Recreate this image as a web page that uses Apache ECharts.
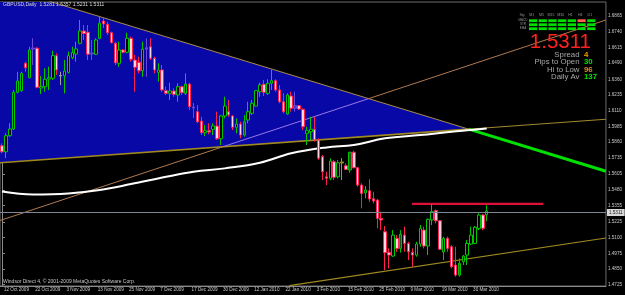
<!DOCTYPE html>
<html>
<head>
<meta charset="utf-8">
<script src="https://cdn.jsdelivr.net/npm/echarts@6/dist/echarts.min.js"></script>
<style>
html, body { margin: 0; padding: 0; background: #000; }
#chart { width: 625px; height: 295px; }
</style>
</head>
<body>
<div id="chart"></div>
<script>
// GBPUSD daily bars, 12 Oct 2009 onwards (one entry per bar)
var opens = [
	1.5831,1.5783,1.5911,1.5964,1.6256,1.6269,1.6487,1.6372,1.6601,1.6607,
	1.6291,1.6301,1.6362,1.6368,1.6548,1.6390,1.6388,1.6415,1.6532,1.6561,
	1.6646,1.6744,1.6734,1.6561,1.6559,1.6686,1.6824,1.6798,1.6731,1.6646,
	1.6487,1.6593,1.6575,1.6686,1.6513,1.6495,1.6428,1.6599,1.6619,1.6527,
	1.6415,1.6434,1.6269,1.6248,1.6267,1.6235,1.6301,1.6248,1.6322,1.6139,
	1.6102,1.6028,1.5935,1.5951,1.5962,1.5988,1.5887,1.6068,1.6102,1.6068,
	1.5978,1.6004,1.5916,1.6036,1.6089,1.6147,1.6261,1.6320,1.6248,1.6328,
	1.6349,1.6275,1.6181,1.6084,1.6227,1.6129,1.6150,1.6121,1.5930,1.5943,
	1.5962,1.5877,1.5744,1.5584,1.5572,1.5704,1.5584,1.5694,1.5672,1.5638,
	1.5779,1.5656,1.5518,1.5457,1.5473,1.5409,1.5399,1.5253,1.5147,1.4983,
	1.4953,1.5094,1.5014,1.5120,1.5054,1.4983,1.4961,1.5049,1.5160,1.5033,
	1.5240,1.5314,1.5234,1.4987,1.5094,1.5027,1.4882,1.4802,1.4908,1.4961,
	1.5049,1.5054,1.5174,1.5280,1.5281
];
var closes = [
	1.5783,1.5911,1.5964,1.6256,1.6346,1.6407,1.6452,1.6593,1.6609,1.6296,
	1.6302,1.6360,1.6372,1.6548,1.6434,1.6386,1.6426,1.6548,1.6572,1.6601,
	1.6744,1.6724,1.6559,1.6569,1.6673,1.6806,1.6800,1.6731,1.6651,1.6492,
	1.6593,1.6575,1.6686,1.6519,1.6455,1.6428,1.6599,1.6611,1.6527,1.6434,
	1.6434,1.6275,1.6248,1.6267,1.6240,1.6301,1.6253,1.6322,1.6142,1.6131,
	1.6022,1.5935,1.5951,1.5940,1.5988,1.5887,1.6068,1.6147,1.6076,1.5978,
	1.6004,1.5916,1.6022,1.6102,1.6169,1.6269,1.6314,1.6256,1.6328,1.6349,
	1.6275,1.6181,1.6102,1.6235,1.6129,1.6150,1.6123,1.5982,1.5951,1.5962,
	1.5877,1.5731,1.5624,1.5572,1.5709,1.5580,1.5696,1.5702,1.5643,1.5779,
	1.5656,1.5518,1.5452,1.5479,1.5407,1.5391,1.5253,1.5240,1.4980,1.4961,
	1.5120,1.5014,1.5128,1.5054,1.4987,1.4961,1.5049,1.5174,1.5033,1.5245,
	1.5306,1.5234,1.5007,1.5094,1.5014,1.4868,1.4802,1.4895,1.4953,1.5054,
	1.5120,1.5182,1.5280,1.5174,1.5311
];
var lows = [
	1.5771,1.5733,1.5903,1.5956,1.6248,1.6261,1.6420,1.6368,1.6474,1.6288,
	1.6243,1.6261,1.6275,1.6354,1.6394,1.6314,1.6248,1.6407,1.6521,1.6500,
	1.6638,1.6673,1.6513,1.6513,1.6553,1.6678,1.6768,1.6712,1.6646,1.6474,
	1.6460,1.6567,1.6567,1.6500,1.6261,1.6407,1.6380,1.6380,1.6513,1.6407,
	1.6341,1.6261,1.6235,1.6195,1.6221,1.6181,1.6235,1.6235,1.6115,1.6052,
	1.6010,1.5916,1.5908,1.5922,1.5916,1.5877,1.5837,1.6049,1.6062,1.5956,
	1.5930,1.5890,1.5903,1.6010,1.6076,1.6142,1.6221,1.6227,1.6235,1.6275,
	1.6261,1.6169,1.6089,1.6076,1.6102,1.6102,1.6115,1.5956,1.5837,1.5877,
	1.5863,1.5717,1.5558,1.5518,1.5558,1.5558,1.5572,1.5558,1.5638,1.5616,
	1.5651,1.5505,1.5333,1.5413,1.5385,1.5373,1.5174,1.5160,1.4842,1.4855,
	1.4948,1.4987,1.4980,1.4987,1.4921,1.4868,1.4948,1.5027,1.5014,1.4961,
	1.5200,1.5214,1.5001,1.4921,1.4987,1.4855,1.4789,1.4789,1.4882,1.4882,
	1.5041,1.5049,1.5160,1.5160,1.5231
];
var highs = [
	1.5850,1.5930,1.6010,1.6275,1.6420,1.6420,1.6500,1.6619,1.6686,1.6615,
	1.6386,1.6447,1.6460,1.6587,1.6567,1.6420,1.6513,1.6580,1.6619,1.6659,
	1.6832,1.6792,1.6792,1.6673,1.6686,1.6864,1.6856,1.6818,1.6739,1.6659,
	1.6659,1.6601,1.6731,1.6699,1.6553,1.6540,1.6659,1.6686,1.6686,1.6540,
	1.6487,1.6474,1.6301,1.6333,1.6288,1.6328,1.6309,1.6407,1.6333,1.6171,
	1.6155,1.6062,1.5996,1.6010,1.6010,1.6102,1.6076,1.6221,1.6195,1.6076,
	1.6049,1.6022,1.6076,1.6181,1.6195,1.6275,1.6333,1.6354,1.6360,1.6439,
	1.6360,1.6314,1.6248,1.6248,1.6261,1.6261,1.6155,1.6129,1.5982,1.6062,
	1.6062,1.5890,1.5757,1.5624,1.5731,1.5717,1.5717,1.5733,1.5691,1.5783,
	1.5791,1.5664,1.5532,1.5510,1.5564,1.5465,1.5407,1.5306,1.5192,1.5014,
	1.5160,1.5120,1.5160,1.5187,1.5067,1.5014,1.5067,1.5200,1.5187,1.5253,
	1.5368,1.5325,1.5240,1.5107,1.5107,1.5041,1.5027,1.4935,1.4961,1.5081,
	1.5187,1.5192,1.5293,1.5288,1.5357
];
// bars that show up in other colours on the screen
var oddBars = { 8: 'ghost', 15: 'doji', 23: 'ghost', 37: 'ghost', 49: 'ghost', 62: 'dark', 75: 'ghost', 87: 'olive', 89: 'dark', 102: 'dark', 117: 'dark' };

var dateLabels = ['12 Oct 2009','22 Oct 2009','3 Nov 2009','13 Nov 2009','25 Nov 2009','7 Dec 2009','17 Dec 2009','30 Dec 2009',
	'12 Jan 2010','22 Jan 2010','3 Feb 2010','15 Feb 2010','25 Feb 2010','9 Mar 2010','19 Mar 2010','30 Mar 2010'];
var labelStep = 8;
var slotCount = 155;
var priceLabels = ['1.4725','1.4850','1.4975','1.5100','1.5225','1.5355','1.5480','1.5605','1.5735','1.5860',
	'1.5985','1.6110','1.6235','1.6360','1.6490','1.6615','1.6740','1.6865'];

// white moving average, [bar, price]
var maLine = [[0,1.5467],[8,1.5444],[17,1.5452],[25,1.5479],[33,1.5526],[42,1.5584],[49,1.5624],[57,1.5651],
	[66,1.5696],[74,1.5771],[83,1.5818],[90,1.5837],[98,1.5890],[107,1.5916],[115,1.5943],[120,1.5956],[124,1.5968]];

// hand drawn objects, [bar, price]
var triangleCorners = [[-0.5,1.7101],[119.4,1.5963],[-0.5,1.5696]];
var greenRay = [[119.4,1.5963],[154.5,1.5628]];
var baseRay = [[119.4,1.5963],[154.5,1.6042]];
var riseLineOut1 = [[-0.5,1.5236],[56.5,1.5823]];
var riseLineIn = [[56.5,1.5823],[93.7,1.6205]];
var riseLineOut2 = [[93.7,1.6205],[154.5,1.6832]];
var channelLine = [[73.5,1.4718],[154.5,1.5097]];
var resistLine = [[104.9,1.5368],[138.5,1.5368]];
var lastPrice = 1.5311;

// info panel
var panelCols = ['Sig','M1','M5','M15','M30','H1','H4','D1'];
var panelRows = ['MACD','STR','EMA'];
var panelSignals = [[1,1,1,1,1,0,1],[1,1,1,1,1,1,1],[1,1,1,1,1,1,1]];
var infoNames = ['Spread','Pips to Open','Hi to Low','Daily Av'];
var infoValues = ['4','30','96','137'];
var infoColors = ['#ff9a00','#00e000','#e08828','#00e000'];

var oddStyles = {
	ghost: { color: '#4a30b8', color0: '#4a30b8', borderColor: '#6a48d8', borderColor0: '#6a48d8' },
	doji: { color: '#a0a0a0', color0: '#a0a0a0', borderColor: '#a0a0a0', borderColor0: '#a0a0a0' },
	olive: { color: '#6a6a10', color0: '#6a6a10', borderColor: '#9a9a20', borderColor0: '#9a9a20' },
	dark: { color: '#0c5a10', color0: '#0c5a10', borderColor: '#00c000', borderColor0: '#00c000' }
};

var cats = [];
for (var i = 0; i < slotCount; i++) cats.push('b' + i);

var bars = [];
for (var i = 0; i < opens.length; i++) {
	var item = { value: [opens[i], closes[i], lows[i], highs[i]] };
	if (oddBars[i]) item.itemStyle = oddStyles[oddBars[i]];
	bars.push(item);
}

function showDate(idx) {
	return idx % labelStep === 0 && idx / labelStep < dateLabels.length;
}

function segment(points, color, width, z) {
	return {
		type: 'line', xAxisIndex: 1, yAxisIndex: 0, data: points, symbol: 'none', silent: true, z: z,
		lineStyle: { color: color, width: width }
	};
}

var graphics = [];
graphics.push({ type: 'text', z: 100, x: 3, y: 2.5, style: { text: 'GBPUSD,Daily  1.5281 1.5357 1.5231 1.5311', fill: '#d8d8d8', font: '5px "Liberation Sans"' } });
graphics.push({ type: 'text', z: 100, x: 3, y: 279.5, style: { text: 'Windsor Direct 4, \u00a9 2001-2009 MetaQuotes Software Corp.', fill: '#c8c8c8', font: '5px "Liberation Sans"' } });

for (var c = 0; c < panelCols.length; c++) {
	graphics.push({ type: 'text', z: 100, x: 522 + c * 9.7, y: 13, style: { text: panelCols[c], fill: '#909090', font: '3.6px "Liberation Sans"', textAlign: 'center' } });
}
for (var r = 0; r < panelRows.length; r++) {
	graphics.push({ type: 'text', z: 100, x: 523, y: 18.6 + r * 4, style: { text: panelRows[r], fill: '#909090', font: '3px "Liberation Sans"', textAlign: 'center' } });
	for (var c = 0; c < panelSignals[r].length; c++) {
		graphics.push({ type: 'rect', z: 100, shape: { x: 529 + c * 9.7, y: 19.3 + r * 4, width: 8.2, height: 2.8 },
			style: { fill: panelSignals[r][c] ? '#00e000' : '#ff6050' } });
	}
}
graphics.push({ type: 'text', z: 100, x: 591, y: 32, style: { text: lastPrice.toFixed(4), fill: '#ff2020', font: '20.5px "Liberation Sans"', textAlign: 'right' } });
for (var k = 0; k < infoNames.length; k++) {
	graphics.push({ type: 'text', z: 100, x: 579.5, y: 50.5 + k * 7.6, style: { text: infoNames[k], fill: '#a8a8a8', font: '7.8px "Liberation Sans"', textAlign: 'right' } });
	graphics.push({ type: 'text', z: 100, x: 584, y: 50.5 + k * 7.6, style: { text: infoValues[k], fill: infoColors[k], font: 'bold 7.8px "Liberation Sans"' } });
}

var chart = echarts.init(document.getElementById('chart'));
chart.setOption({
	backgroundColor: '#000000',
	animation: false,
	grid: { left: 0, top: 2, width: 607.6, height: 284, show: true, borderColor: '#6c6c6c', borderWidth: 1 },
	xAxis: [{
		type: 'category', data: cats, boundaryGap: true,
		axisLine: { lineStyle: { color: '#8a8a8a' } },
		axisTick: { alignWithLabel: true, interval: showDate, length: 3, lineStyle: { color: '#8a8a8a' } },
		axisLabel: {
			interval: showDate, align: 'left', margin: 1.5, padding: [0, 0, 0, 2],
			color: '#c8c8c8', fontSize: 4.6, fontFamily: 'Liberation Sans',
			formatter: function (v, idx) { return dateLabels[idx / labelStep] || ''; }
		},
		splitLine: { show: false }
	}, {
		type: 'value', min: -0.5, max: slotCount - 0.5, show: false
	}],
	yAxis: {
		type: 'value', position: 'right', min: 1.4715, max: 1.6975, scale: true,
		axisLine: { show: true, lineStyle: { color: '#8a8a8a' } },
		axisTick: { show: true, length: 3, customValues: priceLabels.map(Number), lineStyle: { color: '#8a8a8a' } },
		axisLabel: {
			customValues: priceLabels.map(Number), margin: 2, color: '#c8c8c8', fontSize: 4.6, fontFamily: 'Liberation Sans',
			formatter: function (v) { return v.toFixed(4); }
		},
		splitLine: { show: false }
	},
	series: [
		{
			type: 'custom', xAxisIndex: 1, yAxisIndex: 0, clip: true, silent: true, z: 1,
			data: [[0, 1.6]],
			renderItem: function (params, api) {
				var cs = params.coordSys;
				return {
					type: 'polygon',
					shape: { points: triangleCorners.map(function (p) { return api.coord(p); }) },
					clipPath: { type: 'rect', shape: { x: cs.x, y: cs.y, width: cs.width, height: cs.height } },
					style: { fill: '#0808a6' }
				};
			}
		},
		segment([triangleCorners[0], triangleCorners[1]], '#a88a50', 1, 2),
		segment([triangleCorners[2], triangleCorners[1]], '#a08a20', 1.6, 2),
		segment(baseRay, '#a08a30', 1, 2),
		segment(riseLineOut1, '#b07a50', 1, 2),
		segment(riseLineIn, '#9a78e8', 1, 2),
		segment(riseLineOut2, '#b07a50', 1, 2),
		segment(channelLine, '#a08a20', 1.2, 2),
		segment(greenRay, '#00e000', 3, 2),
		segment(resistLine, '#dc1038', 2.2, 2),
		{
			type: 'line', xAxisIndex: 1, yAxisIndex: 0, data: maLine, smooth: 0.4, symbol: 'none', silent: true, z: 2,
			lineStyle: { color: '#ffffff', width: 2 }
		},
		{
			type: 'candlestick', xAxisIndex: 0, yAxisIndex: 0, data: bars, barWidth: 3, z: 3,
			itemStyle: { color: '#000000', color0: '#ffd4de', borderColor: '#00c800', borderColor0: '#ff1f50', borderWidth: 1 },
			markLine: {
				silent: true, symbol: 'none',
				lineStyle: { color: '#7d8794', width: 1, type: 'solid' },
				label: {
					position: 'end', distance: 1, formatter: lastPrice.toFixed(4),
					color: '#202020', backgroundColor: '#d8d8d8', fontSize: 4.6, fontFamily: 'Liberation Sans', padding: [1, 2]
				},
				data: [{ yAxis: lastPrice }]
			}
		}
	],
	graphic: graphics
});
</script>
</body>
</html>
